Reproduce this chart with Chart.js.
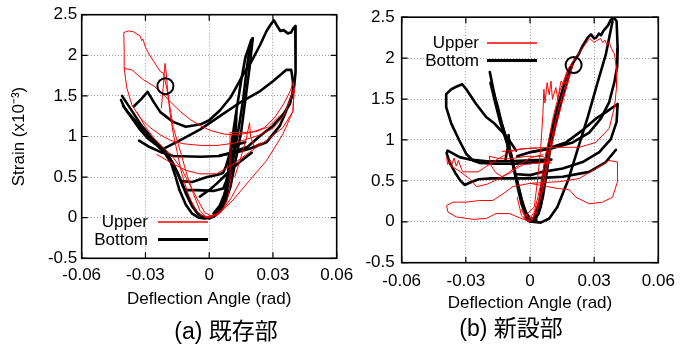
<!DOCTYPE html>
<html>
<head>
<meta charset="utf-8">
<script src="https://cdn.jsdelivr.net/npm/chart.js@4.4.0/dist/chart.umd.min.js"></script>
<style>
  html, body { margin: 0; padding: 0; background: #fff; }
  body { width: 696px; height: 348px; position: relative; overflow: hidden; }
  #wrapA { position: absolute; left: 0; top: 0; width: 365px; height: 348px; }
  #wrapB { position: absolute; left: 360px; top: 0; width: 336px; height: 348px; }
  .cap { position: absolute; font-size: 23px; line-height: 1; white-space: pre; transform: translateX(-50%);
         font-family: "Liberation Sans", "Noto Sans CJK JP", sans-serif; color: #000; }
</style>
</head>
<body>
<div id="wrapA"><canvas id="chartA" width="365" height="348"></canvas></div>
<div id="wrapB"><canvas id="chartB" width="336" height="348"></canvas></div>
<div class="cap" style="left:226px; top:320px">(a) 既存部</div>
<div class="cap" style="left:511px; top:317px">(b) 新設部</div>
<script>
// axis ticks
const xTickValues = [-0.06, -0.03, 0, 0.03, 0.06];
const xTickLabels = ['-0.06', '-0.03', '0', '0.03', '0.06'];
const yTickValues = [-0.5, 0, 0.5, 1, 1.5, 2, 2.5];
const yTickLabels = ['-0.5', '0', '0.5', '1', '1.5', '2', '2.5'];
const seriesNames = ['Upper', 'Bottom'];

// (a) existing part, bottom gauge  [angle (rad), strain (x10^-3)]
const exBot1 = [[-0.041,1.50],[-0.039,1.42],[-0.036,1.30],[-0.032,1.14],[-0.027,0.98],[-0.023,0.88],[-0.019,0.75],[-0.015,0.56],[-0.012,0.38],[-0.009,0.20],[-0.006,0.07],[-0.003,0.00],[0.000,-0.01],[0.003,0.03],[0.006,0.13],[0.008,0.30],[0.010,0.54],[0.012,0.82],[0.014,1.12],[0.016,1.46],[0.0175,1.80],[0.019,2.08],[0.0205,2.21]];
const exBot2 = [[-0.0405,1.38],[-0.038,1.29],[-0.034,1.17],[-0.030,1.05],[-0.026,0.94],[-0.021,0.83],[-0.017,0.67],[-0.014,0.49],[-0.011,0.30],[-0.008,0.14],[-0.005,0.04],[-0.002,0.00],[0.002,0.02],[0.005,0.10],[0.007,0.24],[0.0085,0.45],[0.0095,0.70],[0.011,1.00],[0.013,1.35],[0.015,1.68],[0.017,1.97],[0.0198,2.19]];
const exBot3 = [[-0.0415,1.45],[-0.040,1.36],[-0.037,1.25],[-0.033,1.10],[-0.029,0.98],[-0.025,0.90],[-0.021,0.80],[-0.018,0.68],[-0.016,0.52],[-0.014,0.34],[-0.011,0.16],[-0.008,0.05],[-0.005,0.00],[-0.002,-0.01]];
const exBot4 = [[0.0205,2.21],[0.019,1.85],[0.017,1.45],[0.015,1.05],[0.012,0.65],[0.010,0.38],[0.0075,0.19],[0.005,0.08],[0.002,0.01]];
const exBot5 = [[-0.0355,1.37],[-0.032,1.46],[-0.029,1.55],[-0.026,1.42],[-0.023,1.30],[-0.017,1.18],[-0.011,1.12],[-0.004,1.15],[0.000,1.20],[0.005,1.32],[0.010,1.48],[0.013,1.62],[0.017,1.81],[0.020,1.93],[0.024,2.13],[0.027,2.30],[0.0295,2.40],[0.0305,2.43],[0.032,2.36],[0.0335,2.30],[0.035,2.31],[0.037,2.27],[0.0385,2.28],[0.0395,2.33],[0.0405,2.36],[0.0408,2.05],[0.0405,1.80],[0.040,1.62],[0.038,1.40],[0.035,1.28],[0.030,1.13],[0.024,1.01],[0.018,0.87],[0.011,0.81],[0.005,0.76],[-0.004,0.75],[-0.017,0.76],[-0.023,0.81],[-0.028,0.87],[-0.033,0.95]];
const exBot6 = [[-0.022,0.84],[-0.020,0.87],[-0.014,0.95],[-0.004,1.09],[0.005,1.25],[0.014,1.41],[0.024,1.56],[0.030,1.68],[0.034,1.77],[0.0362,1.82],[0.0386,1.82],[0.0394,1.68],[0.0394,1.54],[0.036,1.30],[0.0332,1.13],[0.027,0.93],[0.019,0.85],[0.011,0.79],[0.005,0.77]];
const exBot7 = [[-0.013,0.45],[-0.008,0.44],[-0.001,0.50],[0.004,0.53],[0.0065,0.55],[0.008,0.64],[0.010,0.82],[0.012,1.02],[0.0128,1.30],[0.0125,1.02],[0.011,0.70],[0.009,0.45],[0.007,0.28],[0.005,0.15],[0.002,0.05]];
const exBot8 = [[-0.011,0.34],[-0.006,0.34],[0.002,0.33],[0.0066,0.36],[0.008,0.45],[0.0095,0.62],[0.0105,0.78],[0.013,0.90],[0.017,0.93]];
const exBot9 = [[-0.0044,0.26],[0.0005,0.35],[0.0035,0.42],[0.0075,0.52],[0.0098,0.58],[0.015,0.70],[0.020,0.80]];

// (a) existing part, upper gauge
const exUp1 = [[-0.040,1.84],[-0.040,2.05],[-0.0402,2.28],[-0.038,2.30],[-0.0356,2.29],[-0.034,2.26],[-0.0325,2.24],[-0.0318,2.18],[-0.0312,2.20],[-0.030,2.10],[-0.028,2.00],[-0.026,1.92],[-0.0245,1.86],[-0.023,1.80],[-0.0216,1.78],[-0.020,1.60],[-0.0184,1.35],[-0.0169,1.11],[-0.0137,0.83],[-0.0106,0.54],[-0.0075,0.30],[-0.0044,0.09],[-0.002,0.02],[0.001,0.00]];
const exUp2 = [[-0.040,1.84],[-0.0364,1.82],[-0.031,1.70],[-0.026,1.62],[-0.0216,1.52],[-0.0184,1.43],[-0.0137,1.31],[-0.009,1.21],[-0.004,1.13],[0.001,1.07],[0.007,1.03],[0.013,1.02],[0.020,1.05],[0.026,1.11],[0.031,1.24],[0.035,1.40],[0.038,1.55],[0.0398,1.68]];
const exUp3 = [[-0.0225,1.35],[-0.0215,1.65],[-0.0208,1.90],[-0.0202,1.78],[-0.0195,1.55],[-0.0185,1.30],[-0.017,1.05],[-0.015,0.80],[-0.013,0.55],[-0.010,0.30],[-0.007,0.12],[-0.004,0.03],[0.000,0.00]];
const exUp4 = [[-0.040,1.84],[-0.0388,1.60],[-0.0364,1.39],[-0.0325,1.23],[-0.0278,1.11],[-0.023,1.02],[-0.018,0.95],[-0.012,0.91],[-0.004,0.89],[0.004,0.89],[0.012,0.92],[0.018,0.97],[0.024,1.02],[0.030,1.10],[0.035,1.25],[0.038,1.45],[0.040,1.60]];
const exUp5 = [[-0.0247,0.78],[-0.0169,0.66],[-0.0106,0.58],[-0.0044,0.54],[0.0034,0.54],[0.0113,0.66],[0.0175,0.78],[0.0269,0.95],[0.0347,1.11],[0.0394,1.31],[0.040,1.58]];
const exUp6 = [[0.000,0.00],[0.005,0.06],[0.0113,0.22],[0.019,0.46],[0.0269,0.70],[0.0347,1.03],[0.0394,1.31],[0.040,1.60],[0.0395,1.66]];
const exUp7 = [[-0.002,0.00],[0.003,0.04],[0.007,0.12],[0.0105,0.25],[0.0144,0.44]];
const exUp8 = [[0.0028,0.01],[0.006,0.08],[0.0085,0.22],[0.0098,0.38],[0.0098,0.70],[0.0098,1.05],[0.016,1.05],[0.022,1.06],[0.028,1.12],[0.033,1.25]];
const exUp9 = [[0.012,0.50],[0.015,0.75],[0.0175,0.98],[0.019,1.17],[0.0195,1.00],[0.021,0.88],[0.024,0.92]];
const exUp10 = [[-0.034,1.30],[-0.030,1.12],[-0.026,0.98],[-0.022,0.87],[-0.018,0.78],[-0.013,0.60],[-0.009,0.40],[-0.005,0.20],[-0.002,0.06],[0.002,0.01]];
const exMark = [[-0.0206,1.62]];

// (b) new part, bottom gauge
const newBot1 = [[-0.002,0.05],[0.000,0.00],[0.0028,0.04],[0.005,0.18],[0.0065,0.45],[0.008,0.72],[0.010,0.99],[0.0121,1.24],[0.0145,1.48],[0.0168,1.68],[0.0199,1.93],[0.023,2.06],[0.0246,2.15],[0.027,2.25],[0.0285,2.29],[0.030,2.24],[0.031,2.25],[0.0322,2.30],[0.0332,2.28],[0.0345,2.34],[0.0355,2.37],[0.0365,2.40],[0.0378,2.47],[0.0386,2.48],[0.0394,2.49],[0.0405,2.45],[0.041,2.11],[0.0408,1.90],[0.0394,1.70],[0.037,1.46],[0.0331,1.26],[0.0277,1.09],[0.020,0.97],[0.0091,0.89],[0.000,0.85],[-0.006,0.80]];
const newBot2 = [[0.0386,2.45],[0.0355,2.05],[0.0315,1.69],[0.027,1.28],[0.0221,0.87],[0.018,0.52],[0.0128,0.18],[0.009,0.04],[0.005,-0.01],[0.001,0.00]];
const newBot3 = [[-0.001,0.02],[0.002,0.05],[0.0045,0.25],[0.006,0.55],[0.008,0.85],[0.0105,1.15],[0.013,1.42],[0.016,1.68],[0.0185,1.87],[0.020,1.93]];
const newBot4 = [[0.001,0.01],[0.004,0.10],[0.006,0.30],[0.0078,0.60],[0.0095,0.90],[0.012,1.20],[0.0148,1.50],[0.0175,1.76],[0.0195,1.90]];
const newBot5 = [[-0.0188,1.83],[-0.017,1.60],[-0.015,1.35],[-0.012,1.10],[-0.009,0.85],[-0.007,0.60],[-0.005,0.38],[-0.003,0.18],[-0.001,0.06],[0.001,0.00],[0.003,0.02]];
const newBot6 = [[-0.0185,1.70],[-0.0165,1.48],[-0.014,1.22],[-0.011,0.98],[-0.0085,0.75],[-0.006,0.50],[-0.004,0.28],[-0.002,0.12],[0.000,0.04],[0.002,0.00]];
const newBot7 = [[-0.0175,1.62],[-0.015,1.40],[-0.013,1.18],[-0.010,0.92],[-0.008,0.70],[-0.006,0.45],[-0.004,0.22],[-0.002,0.08],[0.000,0.02]];
const newBot8 = [[-0.0115,0.75],[-0.0105,0.90],[-0.010,1.06],[-0.0095,0.88],[-0.008,0.72]];
const newBot9 = [[-0.0065,0.87],[-0.0096,0.99],[-0.0127,1.09],[-0.0166,1.20],[-0.0205,1.28],[-0.0252,1.44],[-0.0298,1.62],[-0.0317,1.68],[-0.0345,1.65],[-0.0368,1.62],[-0.0392,1.56],[-0.0392,1.40],[-0.0368,1.20],[-0.033,0.99],[-0.0298,0.83],[-0.0267,0.75],[-0.0236,0.72],[-0.016,0.71],[-0.0081,0.71],[0.000,0.72],[0.008,0.74]];
const newBot10 = [[0.010,0.76],[0.000,0.75],[-0.010,0.74],[-0.020,0.74],[-0.0282,0.76],[-0.0329,0.79],[-0.0385,0.87],[-0.039,0.84],[-0.0375,0.72],[-0.035,0.60],[-0.0325,0.50],[-0.0305,0.45],[-0.028,0.48],[-0.024,0.52],[-0.018,0.53],[-0.010,0.53],[0.000,0.53],[0.008,0.54],[0.0153,0.55],[0.0277,0.61],[0.0355,0.73],[0.0402,0.88]];
const newBot11 = [[0.000,0.85],[0.0075,0.89],[0.0169,0.97],[0.0246,1.12],[0.0308,1.26],[0.0355,1.34],[0.041,1.44],[0.0405,1.22],[0.0378,1.01],[0.0324,0.85],[0.0246,0.73],[0.0153,0.65],[0.006,0.61],[0.000,0.57],[-0.006,0.58]];

// (b) new part, upper gauge
const newUp1 = [[-0.004,0.15],[-0.002,0.04],[0.000,0.00],[0.003,0.10],[0.006,0.40],[0.009,0.80],[0.012,1.15],[0.015,1.45],[0.018,1.72],[0.020,1.92]];
const newUp2 = [[-0.003,0.10],[0.001,0.02],[0.004,0.25],[0.007,0.62],[0.010,1.00],[0.013,1.35],[0.016,1.62],[0.019,1.85]];
const newUp3 = [[-0.002,0.08],[0.002,0.18],[0.0035,0.50],[0.005,0.90],[0.006,1.30],[0.0065,1.62],[0.007,1.45],[0.008,1.70],[0.009,1.55],[0.0098,1.72],[0.0105,1.50],[0.0121,1.64],[0.013,1.50],[0.0145,1.72],[0.016,1.68],[0.018,1.86]];
const newUp4 = [[-0.006,0.30],[-0.004,0.08],[-0.001,0.00],[0.002,0.12],[0.005,0.45],[0.008,0.90],[0.011,1.30],[0.014,1.60],[0.0175,1.85],[0.0205,1.98]];
const newUp5 = [[0.0205,1.98],[0.024,2.10],[0.027,2.21],[0.028,2.24],[0.030,2.19],[0.031,2.21],[0.033,2.24],[0.034,2.19],[0.035,2.22],[0.036,2.16],[0.037,2.20],[0.038,2.12],[0.0395,2.05],[0.0405,1.85],[0.0405,1.65],[0.0395,1.40],[0.037,1.14],[0.0308,0.97],[0.023,0.91],[0.0122,0.91],[0.000,0.90],[-0.006,0.88],[-0.013,0.86]];
const newUp6 = [[0.000,0.47],[0.0122,0.41],[0.0184,0.39],[0.0215,0.30],[0.0277,0.22],[0.0339,0.24],[0.0386,0.30],[0.0409,0.49],[0.0409,0.73],[0.037,0.75],[0.0308,0.65],[0.0231,0.53],[0.0137,0.49],[0.000,0.47],[-0.008,0.43],[-0.0127,0.34],[-0.0174,0.26],[-0.0236,0.26],[-0.0298,0.24],[-0.036,0.24],[-0.039,0.20],[-0.0384,0.12],[-0.0345,0.06],[-0.0267,0.03],[-0.0205,0.04],[-0.0159,0.10],[-0.0096,0.10],[-0.005,0.05],[-0.002,0.02]];
const newUp7 = [[-0.039,0.79],[-0.0385,0.70],[-0.0375,0.76],[-0.0365,0.70],[-0.0355,0.78],[-0.0345,0.68],[-0.0335,0.75],[-0.032,0.64],[-0.0313,0.61],[-0.0243,0.61],[-0.0173,0.73],[-0.0096,0.85],[-0.0049,0.89],[0.003,0.90]];
const newUp8 = [[-0.0375,0.69],[-0.033,0.62],[-0.028,0.52],[-0.025,0.43],[-0.020,0.46],[-0.015,0.52],[-0.010,0.60],[-0.005,0.70],[0.000,0.78],[0.006,0.82]];
const newUp9 = [[-0.019,0.80],[-0.0185,0.70],[-0.016,0.60],[-0.013,0.55],[-0.009,0.60],[-0.006,0.66],[-0.003,0.70],[0.004,0.72],[0.010,0.72],[0.006,0.80],[-0.002,0.80],[-0.009,0.77],[-0.014,0.77],[-0.019,0.80]];
const newMark = [[0.0204,1.915]];

const RED = '#ff0000';
const BLACK = '#000000';
const FONT = '"Liberation Sans", Arial, sans-serif';

function lineSet(points, color, width) {
  return {
    data: points.map(p => ({ x: p[0], y: p[1] })),
    showLine: true,
    borderColor: color,
    borderWidth: width,
    pointRadius: 0,
    pointHoverRadius: 0,
    tension: 0,
    borderJoinStyle: 'round',
    borderCapStyle: 'round'
  };
}

function markSet(points) {
  return {
    data: points.map(p => ({ x: p[0], y: p[1] })),
    showLine: false,
    pointRadius: 8,
    pointBorderWidth: 2,
    pointBorderColor: BLACK,
    pointBackgroundColor: 'rgba(0,0,0,0)'
  };
}

// frame around the plot with inward tick marks on all four sides
const framePlugin = {
  id: 'frame',
  afterDatasetsDraw(chart) {
    const { ctx, chartArea: a, scales: { x, y } } = chart;
    ctx.save();
    ctx.strokeStyle = BLACK;
    ctx.lineWidth = 1.2;
    ctx.beginPath();
    xTickValues.forEach(v => {
      const px = x.getPixelForValue(v);
      ctx.moveTo(px, a.bottom); ctx.lineTo(px, a.bottom - 6);
      ctx.moveTo(px, a.top); ctx.lineTo(px, a.top + 6);
    });
    yTickValues.forEach(v => {
      const py = y.getPixelForValue(v);
      ctx.moveTo(a.left, py); ctx.lineTo(a.left + 6, py);
      ctx.moveTo(a.right, py); ctx.lineTo(a.right - 6, py);
    });
    ctx.stroke();
    ctx.lineWidth = 1.6;
    ctx.strokeRect(a.left, a.top, a.right - a.left, a.bottom - a.top);
    ctx.restore();
  }
};

// key drawn inside the plot: label on the left, line sample on the right
const keyPlugin = {
  id: 'key',
  afterDraw(chart, args, o) {
    const ctx = chart.ctx;
    ctx.save();
    ctx.font = '17px ' + FONT;
    ctx.fillStyle = BLACK;
    ctx.textAlign = 'right';
    ctx.textBaseline = 'middle';
    ctx.fillText(seriesNames[0], o.textRight, o.y1);
    ctx.fillText(seriesNames[1], o.textRight, o.y2);
    ctx.lineCap = 'butt';
    ctx.strokeStyle = RED;
    ctx.lineWidth = 1.4;
    ctx.beginPath(); ctx.moveTo(o.x1, o.y1); ctx.lineTo(o.x2, o.y1); ctx.stroke();
    ctx.strokeStyle = BLACK;
    ctx.lineWidth = 3;
    ctx.beginPath(); ctx.moveTo(o.x1, o.y2 - 0.5); ctx.lineTo(o.x2, o.y2 - 0.5); ctx.stroke();
    ctx.restore();
  }
};

function makeChart(canvasId, red, black, mark, lay) {
  const datasets = [markSet(mark)]
    .concat(red.map(s => lineSet(s, RED, 1)))
    .concat(black.map(s => lineSet(s, BLACK, 2.6)));
  return new Chart(document.getElementById(canvasId), {
    type: 'scatter',
    data: { datasets },
    plugins: [framePlugin, keyPlugin],
    options: {
      responsive: false,
      animation: false,
      events: [],
      layout: { padding: { left: 0, right: lay.padRight, top: lay.padTop, bottom: 0 } },
      plugins: { legend: { display: false }, tooltip: { enabled: false }, key: lay.key },
      scales: {
        x: {
          type: 'linear', min: -0.06, max: 0.06,
          afterBuildTicks: s => { s.ticks = xTickValues.map(v => ({ value: v })); },
          afterFit: s => { s.height = lay.xHeight; },
          ticks: { callback: (v, i) => xTickLabels[i], color: BLACK, padding: lay.xTickPad, maxRotation: 0, font: { size: 17, family: FONT } },
          grid: { color: '#9a9a9a', lineWidth: 1, drawTicks: false },
          border: { display: false, dash: [1, 2] },
          title: { display: true, text: 'Deflection Angle (rad)', color: BLACK, font: { size: 17, family: FONT }, padding: { top: 0, bottom: lay.xTitlePad } }
        },
        y: {
          type: 'linear', min: -0.5, max: 2.5,
          afterBuildTicks: s => { s.ticks = yTickValues.map(v => ({ value: v })); },
          afterFit: s => { s.width = lay.yWidth; },
          ticks: { callback: (v, i) => yTickLabels[i], color: BLACK, padding: lay.yTickPad, font: { size: 17, family: FONT } },
          grid: { color: '#9a9a9a', lineWidth: 1, drawTicks: false },
          border: { display: false, dash: [1, 2] },
          title: { display: lay.yTitle, text: 'Strain (x10⁻³)', color: BLACK, font: { size: 17, family: FONT }, padding: { top: 9, bottom: 0 } }
        }
      }
    }
  });
}

makeChart('chartA',
  [exUp1, exUp2, exUp3, exUp4, exUp5, exUp6, exUp7, exUp8, exUp9, exUp10],
  [exBot1, exBot2, exBot3, exBot4, exBot5, exBot6, exBot7, exBot8, exBot9],
  exMark,
  { padRight: 28.3, padTop: 13.3, xHeight: 89.7, yWidth: 81.7, xTickPad: 7, yTickPad: 4.5, xTitlePad: 38.5, yTitle: true,
    key: { textRight: 148, y1: 222, y2: 240, x1: 158, x2: 208 } });

makeChart('chartB',
  [newUp1, newUp2, newUp3, newUp4, newUp5, newUp6, newUp7, newUp8, newUp9],
  [newBot1, newBot2, newBot3, newBot4, newBot5, newBot6, newBot7, newBot8, newBot9, newBot10, newBot11],
  newMark,
  { padRight: 37.7, padTop: 16, xHeight: 85.3, yWidth: 41.7, xTickPad: 8, yTickPad: 7, xTitlePad: 34.5, yTitle: false,
    key: { textRight: 119, y1: 43, y2: 61, x1: 127, x2: 177 } });
</script>
</body>
</html>
